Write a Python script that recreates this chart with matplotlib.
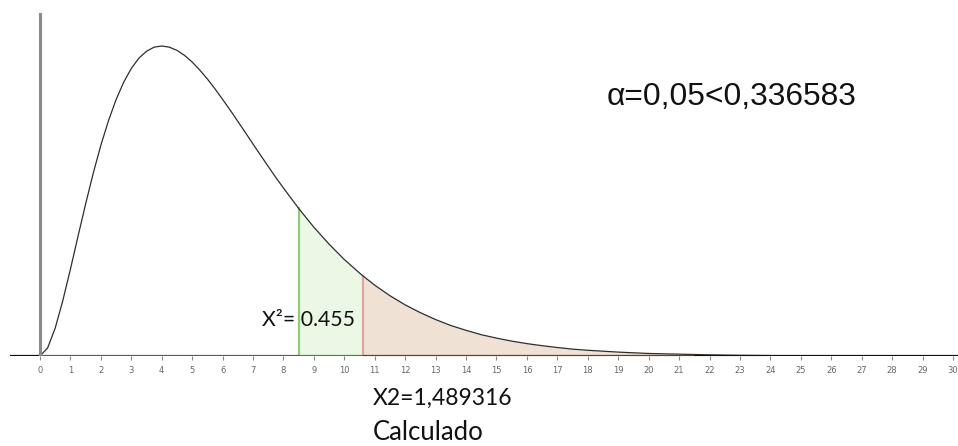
import matplotlib
matplotlib.use("Agg")
import matplotlib.pyplot as plt
import numpy as np

# curve heights (peak at 4)
xs = [0, 0.25, 0.5, 0.75, 1, 1.25, 1.5, 1.75, 2, 2.25, 2.5, 2.75, 3, 3.25, 3.5,
      3.75, 4, 4.25, 4.5, 4.75, 5, 5.25, 5.5, 5.75, 6, 6.25, 6.5, 6.75, 7,
      7.25, 7.5, 7.75, 8, 8.5,
      9, 9.5, 10, 10.5, 10.6, 11, 11.5, 12, 12.5, 13, 13.5, 14, 14.5, 15, 15.5,
      16, 16.5, 17, 17.5, 18, 18.5, 19, 19.5, 20, 21, 22, 23, 24]
ys = [0, 0.0035, 0.0122, 0.0242, 0.0379, 0.0523, 0.0664, 0.0798, 0.0920,
      0.1027, 0.1119, 0.1195, 0.1255, 0.1300, 0.1330,
      0.1348, 0.1353, 0.1348, 0.1334, 0.1312, 0.1283, 0.1248, 0.1209, 0.1166,
      0.1120, 0.1073, 0.1024, 0.0975, 0.0925,
      0.0876, 0.0827, 0.0779, 0.0733, 0.0644,
      0.0562, 0.0488, 0.0421, 0.0362, 0.0351, 0.0309, 0.0263, 0.0223, 0.0189,
      0.0159, 0.0133, 0.0112, 0.0093, 0.0078, 0.0065,
      0.0054, 0.0045, 0.0037, 0.0030, 0.0025, 0.0021, 0.0017, 0.0014, 0.0011,
      0.0008, 0.0005, 0.0003, 0.0002]
x_lo = 8.5
x_hi = 10.6
tail_end = 21.5
tick_vals = list(range(0, 31))

alpha_txt = "α=0,05<0,336583"
chi_txt = "X²= 0.455"
calc_txt = "X2=1,489316"
calc_sub = "Calculado"

xs = np.array(xs)
ys = np.array(ys)

W, H = 958, 446
fig = plt.figure(figsize=(W / 100, H / 100), dpi=100)
fig.patch.set_facecolor("white")
ax = fig.add_axes([0, 90 / H, 1, 356 / H])
ppu = 913 / 30.0  # pixels per unit
x_left = -40 / ppu
x_right = 30 + 5 / ppu
ax.set_xlim(x_left, x_right)
ymax = 0.1353 * 356 / 310
ax.set_ylim(0, ymax)
for s in ax.spines.values():
    s.set_visible(False)
ax.set_yticks([])

# shaded areas
g = (xs >= x_lo) & (xs <= x_hi)
ax.fill_between(xs[g], 0, ys[g], color="#eaf8e5", lw=0, zorder=1)
r = xs >= x_hi
ax.fill_between(xs[r], 0, ys[r], color="#efe1d4", lw=0, zorder=1)

ax.plot([x_lo, x_lo], [0, ys[xs == x_lo][0]], color="#8fcb7c", lw=1.6, zorder=2)
ax.plot([x_hi, x_hi], [0, ys[xs == x_hi][0]], color="#e2a3a3", lw=1.6, zorder=2)

# density curve
ax.plot(xs, ys, color="#2e2e2e", lw=0.9, zorder=3)

# axis pieces
x_start = -30 / ppu
ax.plot([x_start, 0], [0, 0], color="#111111", lw=1.6, zorder=4, solid_capstyle="butt")
ax.plot([0, x_lo], [0, 0], color="#5a5a5a", lw=1.6, zorder=4, solid_capstyle="butt")
ax.plot([x_lo, x_hi], [0, 0], color="#3f8f30", lw=1.6, zorder=4, solid_capstyle="butt")
ax.plot([x_hi, tail_end], [0, 0], color="#8a2a1a", lw=1.6, zorder=4, solid_capstyle="butt")
ax.plot([tail_end, x_right], [0, 0], color="#111111", lw=1.6, zorder=4, solid_capstyle="butt")
ax.plot([0, 0], [0, 0.1353 * 342 / 310], color="#8a8a8a", lw=2.2, zorder=4)

ax.set_xticks(tick_vals)
ax.set_xticklabels([str(t) for t in tick_vals], fontsize=6, color="#666666")
ax.tick_params(axis="x", length=3, width=0.8, color="#888888", pad=4)

# labels
fig.text(607 / W, 1 - 97 / H, alpha_txt, fontsize=22.9, family="Liberation Sans",
         va="center", ha="left", color="#111111")
fig.text(262 / W, 1 - 320 / H, chi_txt, fontsize=15.3, family="Lato",
         va="center", ha="left", color="#111111")
fig.text(373 / W, 1 - 398 / H, calc_txt, fontsize=16.5, family="Lato",
         va="center", ha="left", color="#111111")
fig.text(373 / W, 1 - 433 / H, calc_sub, fontsize=18.5, family="Lato",
         va="center", ha="left", color="#111111")

fig.savefig("out.png", dpi=100)
